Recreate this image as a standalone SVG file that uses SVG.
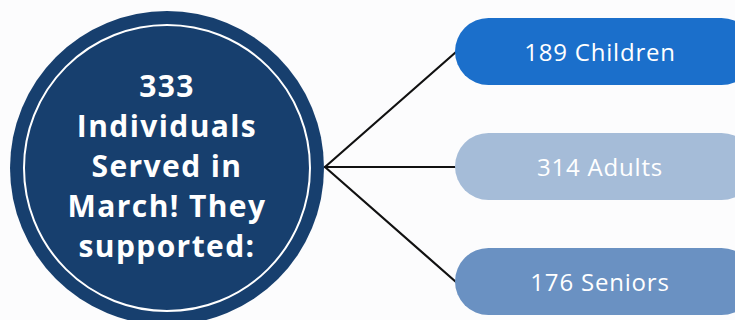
<svg xmlns="http://www.w3.org/2000/svg" width="735" height="320" viewBox="0 0 735 320">
<style>
.bg{fill:#fcfcfd}
.hub{fill:#173f6e}
.ring{fill:none;stroke:#ffffff;stroke-width:2}
.ht{font-family:"Open Sans","Liberation Sans",sans-serif;font-weight:700;font-size:30px;letter-spacing:1.4px;fill:#ffffff;text-anchor:middle}
.pt{font-family:"Open Sans","Liberation Sans",sans-serif;font-weight:400;font-size:24px;letter-spacing:0.8px;fill:#ffffff;text-anchor:middle}
.conn line{stroke:#111111;stroke-width:2.2;stroke-linecap:round}
</style>
<rect class="bg" x="0" y="0" width="735" height="320"/>
<g id="connectors" class="conn">
<line x1="325" y1="167" x2="456" y2="52"/>
<line x1="325" y1="167" x2="456" y2="167"/>
<line x1="325" y1="167" x2="456" y2="282"/>
</g>
<g id="hub">
<circle class="hub" cx="167" cy="168" r="157"/>
<circle class="ring" cx="167" cy="168" r="143"/>
<text class="ht" x="167" y="97">333</text>
<text class="ht" x="167" y="137">Individuals</text>
<text class="ht" x="167" y="177">Served in</text>
<text class="ht" x="167" y="217">March! They</text>
<text class="ht" x="167" y="257">supported:</text>
</g>
<g id="children">
<rect x="455" y="18" width="300" height="67" rx="33.5" fill="#1b6fcb"/>
<text class="pt" x="600" y="61">189 Children</text>
</g>
<g id="adults">
<rect x="455" y="133" width="300" height="67" rx="33.5" fill="#a5bcd8"/>
<text class="pt" x="600" y="176">314 Adults</text>
</g>
<g id="seniors">
<rect x="455" y="248" width="300" height="67" rx="33.5" fill="#6a91c2"/>
<text class="pt" x="600" y="291">176 Seniors</text>
</g>
</svg>
